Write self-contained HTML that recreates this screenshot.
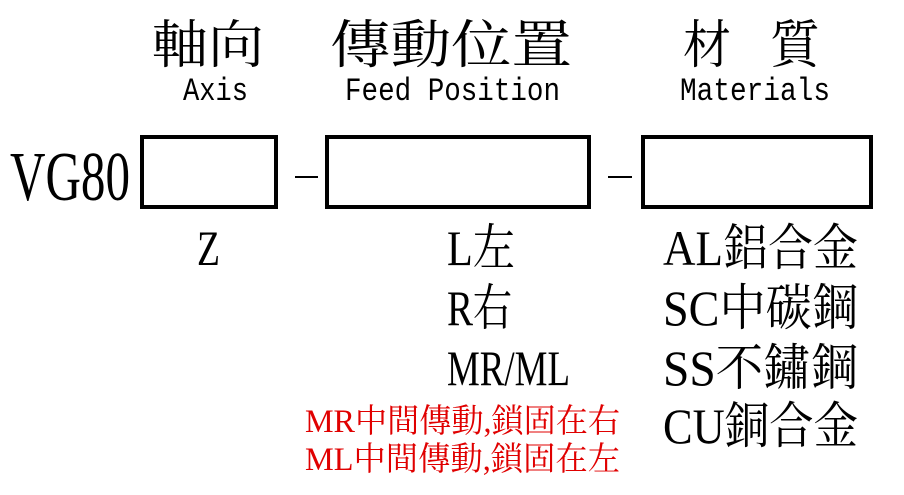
<!DOCTYPE html>
<html><head><meta charset="utf-8"><style>
html,body{margin:0;padding:0;background:#fff;}
svg{display:block}
text{font-family:"Liberation Serif","Noto Serif CJK SC","Noto Sans CJK TC",serif;fill:#000}
.m{font-family:"Liberation Mono","Noto Sans CJK TC",monospace}
</style></head><body>
<svg width="904" height="495" viewBox="0 0 904 495" xmlns="http://www.w3.org/2000/svg">
<text x="152" y="63" font-size="52" textLength="112" lengthAdjust="spacingAndGlyphs">軸向</text>
<text x="330" y="63" font-size="52" textLength="242" lengthAdjust="spacingAndGlyphs">傳動位置</text>
<text x="683" y="63" font-size="52" textLength="48" lengthAdjust="spacingAndGlyphs">材</text>
<text x="770" y="63" font-size="52" textLength="50" lengthAdjust="spacingAndGlyphs">質</text>
<text class="m" x="183" y="100" font-size="32" textLength="65" lengthAdjust="spacingAndGlyphs">Axis</text>
<text class="m" x="345" y="100" font-size="32" textLength="215" lengthAdjust="spacingAndGlyphs">Feed Position</text>
<text class="m" x="680" y="100" font-size="32" textLength="150" lengthAdjust="spacingAndGlyphs">Materials</text>
<text x="10" y="200" font-size="70" textLength="120" lengthAdjust="spacingAndGlyphs">VG80</text>
<rect x="142" y="137" width="134" height="70" fill="none" stroke="#000" stroke-width="4"/>
<rect x="327" y="137" width="262" height="70" fill="none" stroke="#000" stroke-width="4"/>
<rect x="643" y="137" width="228" height="70" fill="none" stroke="#000" stroke-width="4"/>
<rect x="295" y="176" width="23" height="2" fill="#000"/>
<rect x="608" y="176" width="24" height="2" fill="#000"/>
<g font-size="50">
<text x="197" y="265" textLength="23" lengthAdjust="spacingAndGlyphs">Z</text>
<text x="447" y="265" textLength="68" lengthAdjust="spacingAndGlyphs">L左</text>
<text x="447" y="325" textLength="65" lengthAdjust="spacingAndGlyphs">R右</text>
<text x="447" y="385" textLength="123" lengthAdjust="spacingAndGlyphs">MR/ML</text>
<text x="663" y="265" textLength="195" lengthAdjust="spacingAndGlyphs">AL鋁合金</text>
<text x="663" y="325" textLength="195" lengthAdjust="spacingAndGlyphs">SC中碳鋼</text>
<text x="663" y="385" textLength="195" lengthAdjust="spacingAndGlyphs">SS不鏽鋼</text>
<text x="663" y="443" textLength="195" lengthAdjust="spacingAndGlyphs">CU銅合金</text>
</g>
<text x="305" y="432" font-size="33" style="fill:#e00000" textLength="315" lengthAdjust="spacingAndGlyphs">MR中間傳動,鎖固在右</text>
<text x="305" y="470" font-size="33" style="fill:#e00000" textLength="315" lengthAdjust="spacingAndGlyphs">ML中間傳動,鎖固在左</text>
</svg>
</body></html>
